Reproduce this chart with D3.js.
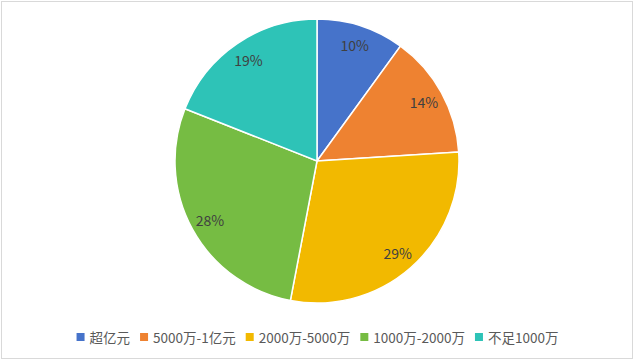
<!DOCTYPE html>
<html>
<head>
<meta charset="utf-8">
<script src="https://cdn.jsdelivr.net/npm/d3@7"></script>
<style>
  body { margin: 0; background: #fff; }
  svg { display: block; }
</style>
</head>
<body>
<div id="content"></div>
<script>
// Datos del grafico
const categories = ['超亿元', '5000万-1亿元', '2000万-5000万', '1000万-2000万', '不足1000万'];
const values = [10, 14, 29, 28, 19];
const colorList = ['#4673CA', '#EE8231', '#F2B900', '#76BC43', '#2EC3B7'];

const width = 635;
const height = 362;
const cx = 317, cy = 161, radius = 142;
const fontStack = '"Noto Sans CJK SC", "Noto Sans", sans-serif';

const svg = d3.select('#content')
    .append('svg')
    .attr('width', width)
    .attr('height', height);

// Marco del area del grafico
svg.append('rect')
    .attr('x', 1.5).attr('y', 1.5)
    .attr('width', width - 4).attr('height', height - 5)
    .attr('fill', '#fff')
    .attr('stroke', '#d9d9d9')
    .attr('stroke-width', 1);

const color = d3.scaleOrdinal().domain(categories).range(colorList);

const pie = d3.pie().sort(null).value(d => d.value);
const arcs = pie(categories.map((c, i) => ({ name: c, value: values[i] })));
const arc = d3.arc().innerRadius(0).outerRadius(radius);
const labelArc = d3.arc().innerRadius(radius * 0.86).outerRadius(radius * 0.86);

const g = svg.append('g').attr('transform', `translate(${cx}, ${cy})`);

g.selectAll('path')
    .data(arcs)
    .enter()
    .append('path')
    .attr('d', arc)
    .attr('fill', d => color(d.data.name))
    .attr('stroke', '#fff')
    .attr('stroke-width', 1.5);

const total = d3.sum(values);
g.selectAll('text')
    .data(arcs)
    .enter()
    .append('text')
    .attr('transform', d => `translate(${labelArc.centroid(d)})`)
    .attr('text-anchor', 'middle')
    .attr('dominant-baseline', 'central')
    .attr('fill', '#404040')
    .style('font-family', fontStack)
    .style('font-size', '14px')
    .text(d => Math.round(d.data.value / total * 100) + '%');

// Leyenda
const legend = svg.append('g').attr('id', 'legend');
const items = legend.selectAll('g')
    .data(categories)
    .enter()
    .append('g');

items.append('rect')
    .attr('width', 8).attr('height', 8)
    .attr('y', -4)
    .attr('fill', d => color(d));

items.append('text')
    .attr('x', 13)
    .attr('dominant-baseline', 'central')
    .attr('fill', '#595959')
    .style('font-family', fontStack)
    .style('font-size', '13.5px')
    .text(d => d);

const gap = 10;
let widths = [];
items.each(function() { widths.push(this.getBBox().width); });
const totalW = d3.sum(widths) + gap * (widths.length - 1);
let x = cx + 0.5 - totalW / 2;
items.attr('transform', (d, i) => {
    const t = `translate(${x}, 337)`;
    x += widths[i] + gap;
    return t;
});
</script>
</body>
</html>
